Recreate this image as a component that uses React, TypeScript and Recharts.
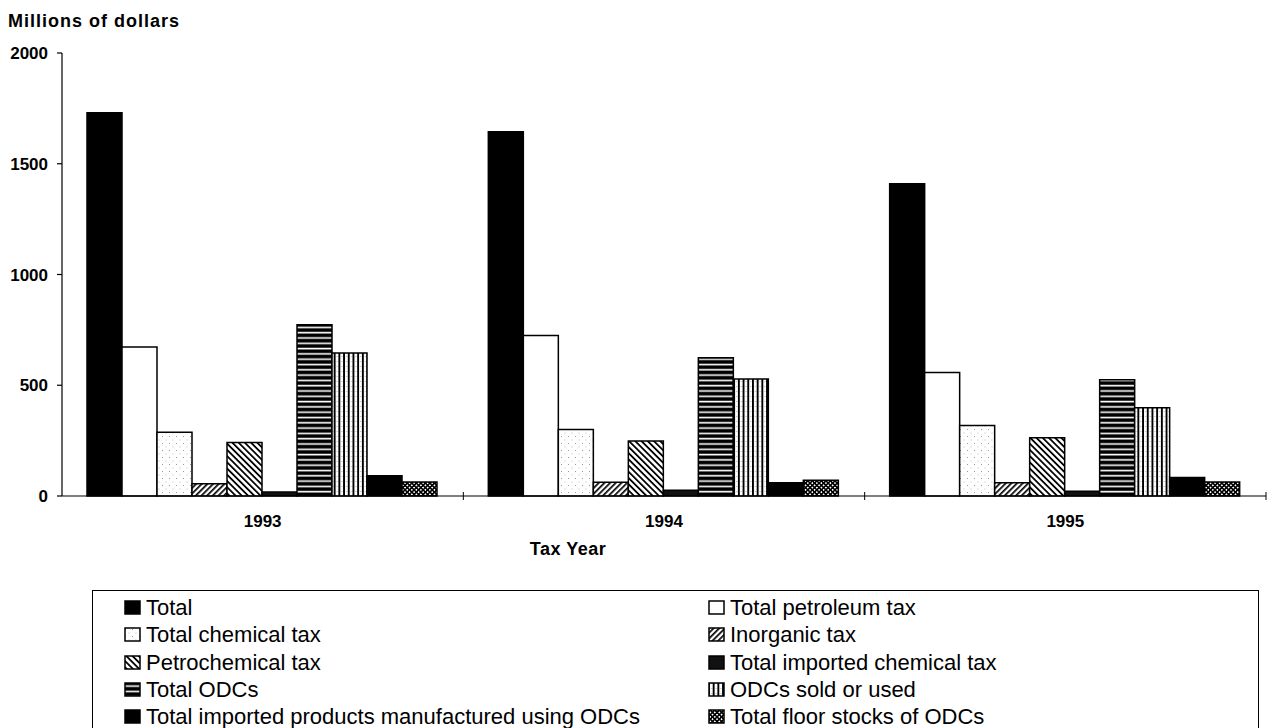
import React from 'react';
import { BarChart, Bar, XAxis, YAxis, Legend } from 'recharts';

// ---- data ----
const years = ['1993', '1994', '1995'];
const totalVals = [1730, 1645, 1410];
const petroleumVals = [673, 725, 558];
const chemicalVals = [288, 300, 318];
const inorganicVals = [55, 62, 60];
const petrochemVals = [241, 248, 263];
const importedChemVals = [18, 26, 22];
const totalOdcVals = [773, 624, 525];
const odcSoldVals = [646, 528, 398];
const importedProdVals = [91, 60, 83];
const floorStockVals = [63, 71, 63];
const yTicks = [0, 500, 1000, 1500, 2000];

const seriesKeys = [
  'total', 'petroleum', 'chemical', 'inorganic', 'petrochem',
  'importedChem', 'totalOdc', 'odcSold', 'importedProd', 'floorStock',
];
const seriesNames = [
  'Total',
  'Total petroleum tax',
  'Total chemical tax',
  'Inorganic tax',
  'Petrochemical tax',
  'Total imported chemical tax',
  'Total ODCs',
  'ODCs sold or used',
  'Total imported products manufactured using ODCs',
  'Total floor stocks of ODCs',
];
const seriesFills = [
  '#000', '#fff', 'url(#pDots)', 'url(#pFwd)', 'url(#pBack)',
  '#111', 'url(#pHoriz)', 'url(#pVert)', '#000', 'url(#pCheck)',
];

const data = years.map((y, i) => ({
  year: y,
  total: totalVals[i],
  petroleum: petroleumVals[i],
  chemical: chemicalVals[i],
  inorganic: inorganicVals[i],
  petrochem: petrochemVals[i],
  importedChem: importedChemVals[i],
  totalOdc: totalOdcVals[i],
  odcSold: odcSoldVals[i],
  importedProd: importedProdVals[i],
  floorStock: floorStockVals[i],
}));

// ---- layout ----
const W = 1267;
const H = 728;
const Y_AXIS_W = 62;
const M_RIGHT = 1;
const PLOT_W = W - Y_AXIS_W - M_RIGHT;
const FONT = '"Liberation Sans", Arial, Helvetica, sans-serif';

const XTick = (props: any) => {
  const { x, y, payload } = props;
  const axisY = y - 4;
  const band = PLOT_W / years.length;
  return (
    <g>
      <line x1={x + band / 2} x2={x + band / 2} y1={axisY - 4} y2={axisY + 4} stroke="#000" strokeWidth={1} />
      <text x={x} y={axisY + 31} textAnchor="middle" fontFamily={FONT} fontWeight="bold" fontSize={17} fill="#000">
        {payload.value}
      </text>
    </g>
  );
};

const LegendBox = () => (
  <div
    style={{
      boxSizing: 'border-box',
      width: 1167,
      height: 140,
      border: '1.5px solid #000',
      background: '#fff',
      paddingTop: 3,
      display: 'grid',
      gridTemplateColumns: '615px 1fr',
      fontFamily: FONT,
      fontSize: 22,
      lineHeight: '27.3px',
      color: '#000',
    }}
  >
    {seriesNames.map((name, i) => (
      <div
        key={name}
        style={{ display: 'flex', alignItems: 'center', paddingLeft: i % 2 === 0 ? 31 : 0, whiteSpace: 'nowrap', height: 27.3 }}
      >
        <svg width={17} height={15} style={{ marginRight: 5, flex: 'none' }}>
          <rect x={1} y={1} width={15} height={13} fill={seriesFills[i]} stroke="#000" strokeWidth={1.5} />
        </svg>
        <span>{name}</span>
      </div>
    ))}
  </div>
);

export default function App() {
  return (
    <div style={{ position: 'absolute', left: 0, top: 0, width: W, height: H, background: '#fff' }}>
      <BarChart
        width={W}
        height={H}
        data={data}
        margin={{ top: 53, right: M_RIGHT, left: 0, bottom: 192 }}
        barCategoryGap={25}
        barGap={0}
      >
        <defs>
          <pattern id="pDots" width="7" height="7" patternUnits="userSpaceOnUse">
            <rect width="7" height="7" fill="#fff" />
            <rect x="1" y="2" width="1" height="1" fill="#999" />
            <rect x="4.5" y="5.5" width="1" height="1" fill="#bbb" />
          </pattern>
          <pattern id="pFwd" width="4" height="4" patternUnits="userSpaceOnUse" patternTransform="rotate(45)">
            <rect width="4" height="4" fill="#fff" />
            <rect width="1.7" height="4" fill="#000" />
          </pattern>
          <pattern id="pBack" width="4.4" height="4.4" patternUnits="userSpaceOnUse" patternTransform="rotate(-45)">
            <rect width="4.4" height="4.4" fill="#fff" />
            <rect width="1.8" height="4.4" fill="#000" />
          </pattern>
          <pattern id="pHoriz" width="5" height="5.3" patternUnits="userSpaceOnUse">
            <rect width="5" height="5.3" fill="#000" />
            <rect y="3.3" width="5" height="1.6" fill="#fff" />
          </pattern>
          <pattern id="pVert" width="4.7" height="5" patternUnits="userSpaceOnUse">
            <rect width="4.7" height="5" fill="#fff" />
            <rect width="1.9" height="5" fill="#000" />
            <rect x="3.2" y="1" width="0.8" height="0.8" fill="#888" />
          </pattern>
          <pattern id="pCheck" width="3.2" height="3.2" patternUnits="userSpaceOnUse" patternTransform="rotate(45)">
            <rect width="3.2" height="3.2" fill="#000" />
            <rect width="1.6" height="1.6" fill="#fff" />
          </pattern>
        </defs>
        <text x={8} y={27} fontFamily={FONT} fontWeight="bold" fontSize={18} letterSpacing={1} fill="#000">
          Millions of dollars
        </text>
        <text x={568} y={555} textAnchor="middle" fontFamily={FONT} fontWeight="bold" fontSize={18} letterSpacing={0.5} fill="#000">
          Tax Year
        </text>
        <XAxis
          dataKey="year"
          height={40}
          tickLine={false}
          tickSize={4}
          tickMargin={0}
          axisLine={{ stroke: '#000', strokeWidth: 1.2 }}
          tick={<XTick />}
          interval={0}
        />
        <YAxis
          width={Y_AXIS_W}
          domain={[0, 2000]}
          ticks={yTicks}
          interval={0}
          tickSize={5}
          tickMargin={9}
          axisLine={{ stroke: '#000', strokeWidth: 1.2 }}
          tickLine={{ stroke: '#000', strokeWidth: 1.2 }}
          tick={{ fontFamily: FONT, fontWeight: 'bold', fontSize: 17, fill: '#000' }}
        />
        <Legend
          layout="horizontal"
          verticalAlign="middle"
          align="center"
          content={<LegendBox />}
          wrapperStyle={{ position: 'absolute', left: 92, top: 590, width: 1167, height: 140 }}
        />
        {seriesKeys.map((k, i) => (
          <Bar
            key={k}
            dataKey={k}
            name={seriesNames[i]}
            fill={seriesFills[i]}
            stroke="#000"
            strokeWidth={1.5}
            isAnimationActive={false}
          />
        ))}
      </BarChart>
    </div>
  );
}
